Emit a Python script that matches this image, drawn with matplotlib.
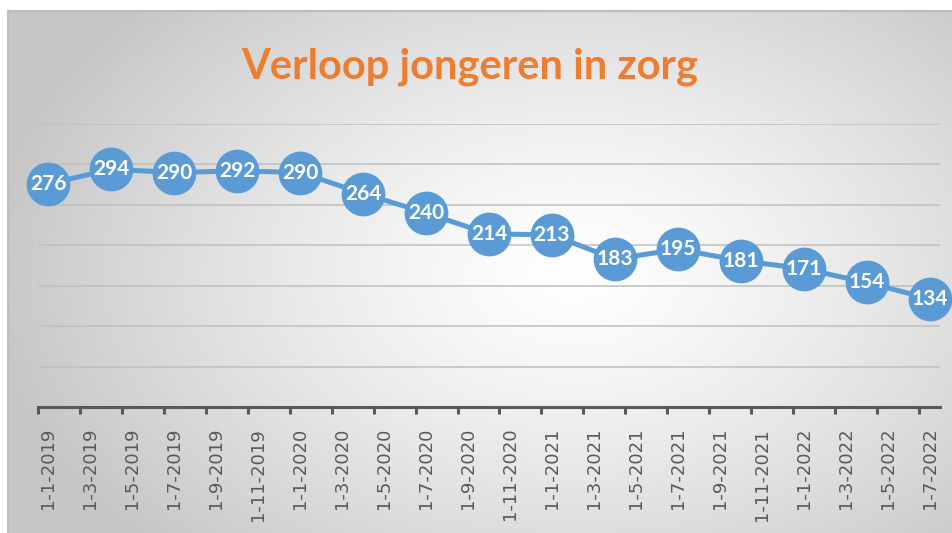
import numpy as np
import matplotlib
matplotlib.use("Agg")
import matplotlib.pyplot as plt

# ---- data ----
dates = ["1-1-2019", "1-4-2019", "1-7-2019", "1-10-2019",
         "1-1-2020", "1-4-2020", "1-7-2020", "1-10-2020",
         "1-1-2021", "1-4-2021", "1-7-2021", "1-10-2021",
         "1-1-2022", "1-4-2022", "1-7-2022"]
values = [276, 294, 290, 292, 290, 264, 240, 214, 213, 183, 195, 181, 171, 154, 134]
tick_labels = ["1-1-2019", "1-3-2019", "1-5-2019", "1-7-2019", "1-9-2019", "1-11-2019",
               "1-1-2020", "1-3-2020", "1-5-2020", "1-7-2020", "1-9-2020", "1-11-2020",
               "1-1-2021", "1-3-2021", "1-5-2021", "1-7-2021", "1-9-2021", "1-11-2021",
               "1-1-2022", "1-3-2022", "1-5-2022", "1-7-2022"]
title = "Verloop jongeren in zorg"


def month_index(s):
    d, m, y = (int(p) for p in s.split("-"))
    return (y - 2019) * 12 + (m - 1)


x = [month_index(s) for s in dates]
tick_pos = [month_index(s) for s in tick_labels]

W, H = 953, 533
fig = plt.figure(figsize=(W / 100, H / 100), dpi=100)
fig.patch.set_facecolor("white")

# ---- background panel with radial gradient ----
bx0, by0 = 8, 11
bg = fig.add_axes([bx0 / W, 0, (W - bx0) / W, (H - by0) / H])
bg.set_xlim(0, 1)
bg.set_ylim(0, 1)
gx = np.linspace(0, 1, 400)
gy = np.linspace(0, 1, 240)
GX, GY = np.meshgrid(gx, gy)
cx, cy = 0.60, 0.50
r = np.sqrt(((GX - cx) / 0.62) ** 2 + ((GY - cy) / 0.75) ** 2)
r = np.clip(r, 0, 1)
v = 1.0 - 0.22 * r ** 1.3
img = np.dstack([v, v, v])
bg.imshow(img, extent=[0, 1, 0, 1], origin="lower", aspect="auto", zorder=0)
for s in ["right", "bottom"]:
    bg.spines[s].set_visible(False)
for s in ["top", "left"]:
    bg.spines[s].set_color("#bdbdbd")
    bg.spines[s].set_linewidth(1.5)
bg.set_xticks([])
bg.set_yticks([])

# ---- main axes ----
left, right = 38, 940
top, bottom = 124, 407
ax = fig.add_axes([left / W, 1 - bottom / H, (right - left) / W, (bottom - top) / H])
ax.patch.set_alpha(0)
ax.set_xlim(-0.5, 42.5)
ax.set_ylim(0, 350)

for yv in range(50, 351, 50):
    ax.axhline(yv, color="#bfbfbf", lw=1.1, zorder=1)

ax.plot(x, values, color="#5B9BD5", lw=3.6, zorder=2, solid_capstyle="round", clip_on=False)
ax.plot(x, values, "o", color="#5B9BD5", markersize=31.5, markeredgewidth=0, zorder=3,
        clip_on=False)
for xi, vi in zip(x, values):
    ax.text(xi, vi, str(vi), ha="center", va="center", color="white",
            fontsize=15, fontweight="bold", family="Lato", zorder=4)

for s in ["top", "right", "left"]:
    ax.spines[s].set_visible(False)
ax.spines["bottom"].set_color("#595959")
ax.spines["bottom"].set_linewidth(2.2)
ax.set_yticks([])

ax.set_xticks([p - 0.5 for p in tick_pos])
ax.set_xticklabels([])
ax.tick_params(axis="x", which="major", length=5, width=2.2, color="#595959", direction="out")
ax.set_xticks(tick_pos, minor=True)
ax.set_xticklabels(tick_labels, minor=True, rotation=90, fontsize=13,
                   color="#595959", family="DejaVu Sans")
ax.tick_params(axis="x", which="minor", length=0, pad=15)

fig.text(470 / W, 1 - 78 / H, title, ha="center", va="baseline", color="#ED7D31",
         fontsize=30, fontweight="bold", family="Lato")

fig.savefig("out.png", dpi=100)
